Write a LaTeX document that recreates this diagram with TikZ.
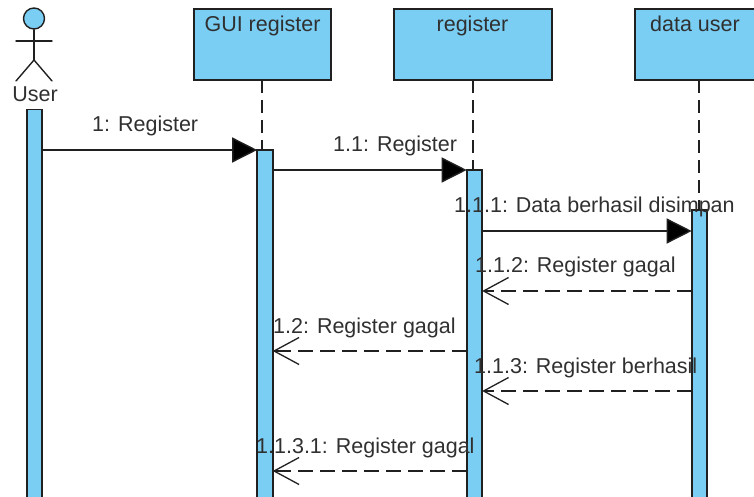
\documentclass[tikz,border=0pt]{standalone}
\usepackage{fontspec}
\setmainfont{Liberation Sans}
\usetikzlibrary{arrows.meta}
\definecolor{umlblue}{HTML}{7ACEF4}
\definecolor{umlline}{HTML}{202020}
\definecolor{umltext}{HTML}{303030}
\tikzset{
  x=1pt,y=-1pt,
  lifebox/.style={draw=umlline,line width=1.5pt,fill=umlblue,minimum height=71pt,inner sep=0pt,outer sep=0pt,anchor=north west},
  boxtitle/.style={text=umltext,inner sep=0pt,anchor=base,font=\fontsize{21.5}{24}\selectfont},
  activation/.style={draw=umlline,line width=1.6pt,fill=umlblue,inner sep=0pt,outer sep=0pt,minimum width=15.5pt,anchor=north west},
  lifeline/.style={draw=umlline,line width=1.4pt,dash pattern=on 13pt off 7pt},
  callmsg/.style={draw=umlline,line width=1.4pt,-{Triangle[length=25pt,width=25pt,fill=black]}},
  returnmsg/.style={draw=umlline,line width=1.4pt,dash pattern=on 15pt off 7pt,-{Straight Barb[length=25pt,width=27pt,line width=1.3pt]}},
  msglabel/.style={text=umltext,inner sep=0pt,anchor=base west,font=\fontsize{21.5}{24}\selectfont},
  actorline/.style={draw=umlline,line width=1.4pt,line cap=round},
}
\begin{document}
\begin{tikzpicture}
\useasboundingbox (0,0) rectangle (754,497);
% lifeline heads
\node[lifebox,minimum width=137pt] (gui) at (194,9) {};
\node[lifebox,minimum width=158pt] (reg) at (394,9) {};
\node[lifebox,minimum width=124pt] (dat) at (635,9) {};
\node[boxtitle] (guit) at (262.5,32) {GUI register};
\node[boxtitle] (regt) at (472.5,32) {register};
\node[boxtitle] (datt) at (695,32) {data user};
% actor
\node[circle,draw=umlline,line width=1.4pt,fill=umlblue,minimum size=21pt,inner sep=0pt] (head) at (34,18.5) {};
\coordinate (hip) at (34,60);
\coordinate (armL) at (16,41);
\coordinate (armR) at (52,41);
\coordinate (footL) at (16,81);
\coordinate (footR) at (52,81);
\draw[actorline] (head.south) -- (hip);
\draw[actorline] (armL) -- (armR);
\draw[actorline] (footL) -- (hip) -- (footR);
\node[boxtitle] (user) at (35,102) {User};
% lifelines
\coordinate (guiA) at (262,150);
\coordinate (regA) at (473,170);
\coordinate (datA) at (699,212);
\draw[lifeline] (gui.south -| guiA) -- (guiA);
\draw[lifeline] (reg.south -| regA) -- (regA);
\draw[lifeline] (dat.south -| datA) -- (datA);
% activations
\path[clip] (0,0) rectangle (754,497);
\node[activation,minimum height=400pt] (a0) at (26.7,109.5) {};
\node[activation,minimum height=360pt] (a1) at (257.2,150) {};
\node[activation,minimum height=340pt] (a2) at (466.7,170) {};
\node[activation,minimum height=300pt] (a3) at (691.7,210) {};
% messages
\coordinate (m1) at (0,150);
\coordinate (m2) at (0,170);
\coordinate (m3) at (0,231);
\coordinate (m4) at (0,291);
\coordinate (m5) at (0,351);
\coordinate (m6) at (0,391);
\coordinate (m7) at (0,471);
\draw[callmsg] (a0.east |- m1) -- (a1.west |- m1);
\draw[callmsg] (a1.east |- m2) -- (a2.west |- m2);
\draw[callmsg] (a2.east |- m3) -- (a3.west |- m3);
\draw[returnmsg] (a3.west |- m4) -- (a2.east |- m4);
\draw[returnmsg] (a2.west |- m5) -- (a1.east |- m5);
\draw[returnmsg] (a3.west |- m6) -- (a2.east |- m6);
\draw[returnmsg] (a2.west |- m7) -- (a1.east |- m7);
% labels
\node[msglabel] (l1) at (92,132) {1: Register};
\node[msglabel] (l2) at (333,152) {1.1: Register};
\node[msglabel] (l3) at (454,212) {1.1.1: Data berhasil disimpan};
\node[msglabel] (l4) at (475,272) {1.1.2: Register gagal};
\node[msglabel] (l5) at (273,333) {1.2: Register gagal};
\node[msglabel] (l6) at (474,373) {1.1.3: Register berhasil};
\node[msglabel] (l7) at (256,453) {1.1.3.1: Register gagal};
\end{tikzpicture}
\end{document}
